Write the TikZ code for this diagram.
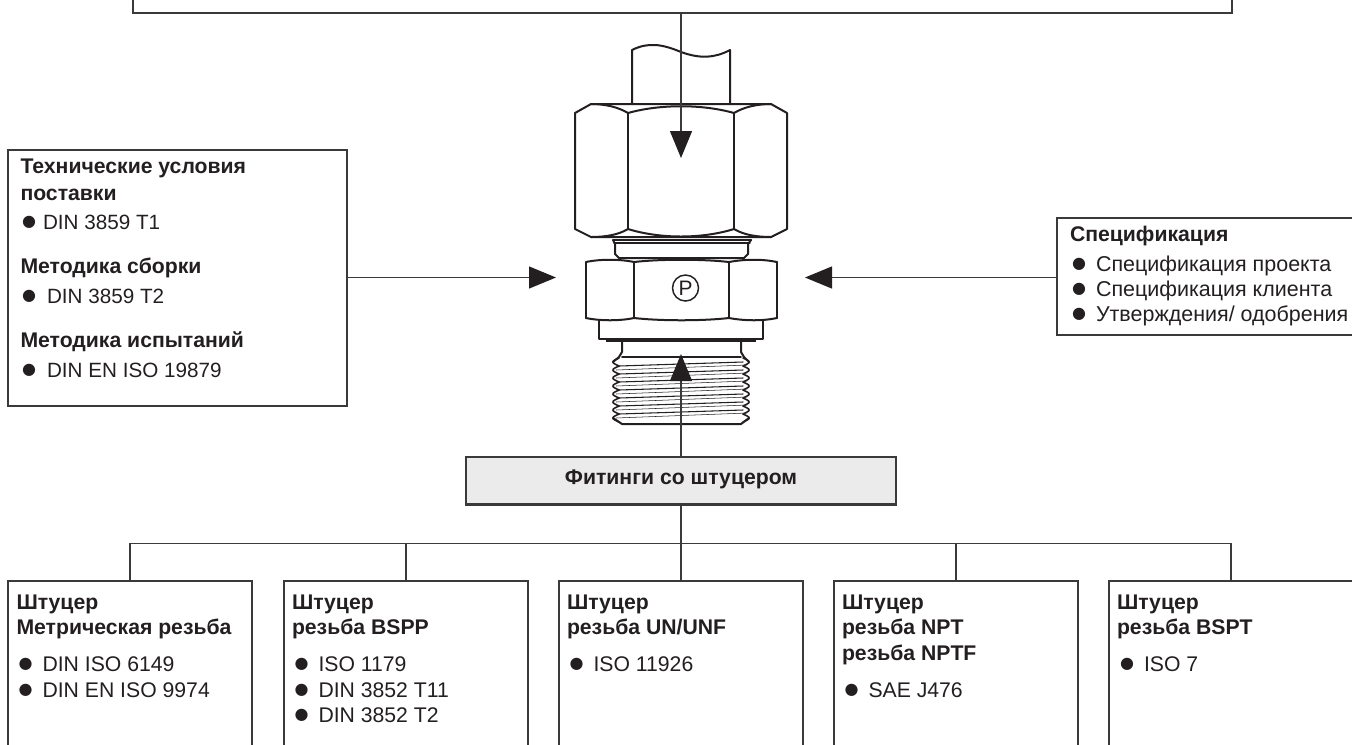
\documentclass[tikz,border=0pt]{standalone}
\usepackage{fontspec}
\setmainfont{Liberation Sans}
\newfontfamily\symfont{DejaVu Sans}
\usetikzlibrary{arrows.meta}
\definecolor{ink}{HTML}{231F20}
\definecolor{linec}{HTML}{3A3A3A}
\definecolor{greyfill}{HTML}{EBEBEB}
\def\px{0.75pt}
\newcommand{\bul}[1]{\llap{\makebox[0pt][c]{\raisebox{1.6pt}{\fontsize{12pt}{12pt}\symfont ●}}\hspace{#1pt}}}
\tikzset{
  frame/.style={draw=linec,line width=0.8pt,rectangle,anchor=north west,inner sep=0pt,outer sep=0pt},
  txt/.style={anchor=base west,inner sep=0pt,outer sep=0pt,text=ink,font=\fontsize{15.5pt}{15.5pt}\selectfont},
  txtb/.style={txt,font=\fontsize{15.9pt}{15.9pt}\selectfont},
  txtr/.style={txt,font=\fontsize{16.1pt}{16.1pt}\selectfont},
  hd/.style={txt,font=\fontsize{15.9pt}{15.9pt}\selectfont\bfseries},
  part/.style={draw=ink,line width=1.5pt,line join=round,line cap=round},
  thread/.style={draw=ink,line width=1.2pt,line join=round,line cap=round},
  thin part/.style={draw=ink,line width=0.8pt,line cap=round},
  conn/.style={draw=linec,line width=0.9pt},
  arrowed/.style={conn,-{Triangle[length=27*\px,width=22*\px,color=ink]}}
}
\begin{document}
\begin{tikzpicture}[x=0.75pt,y=-0.75pt]
\useasboundingbox (0,0) rectangle (1352,744);
\clip (0,0) rectangle (1352,744);
% fitting: pipe
\draw[part] (632,104) -- (632,50) .. controls (648,42) and (662,44) .. (681,52) .. controls (700,59) and (715,58) .. (730,50) -- (730,104);
% upper hexagon
\draw[part] (575,113) -- (591,104) -- (771,104) -- (787,113) -- (787,229) -- (771,237) -- (591,237) -- (575,229) -- cycle;
\draw[part] (628,113) -- (628,229) (734,113) -- (734,229);
\draw[part] (591,104) .. controls (605,104) and (618,107) .. (628,113)
  .. controls (660,104) and (702,104) .. (734,113)
  .. controls (744,107) and (757,104) .. (771,104);
\draw[part] (591,237) .. controls (605,237) and (618,235) .. (628,229)
  .. controls (660,239) and (702,239) .. (734,229)
  .. controls (744,235) and (757,237) .. (771,237);
% neck
\draw[part] (613,240) -- (751,240);
\draw[thin part] (614,243) -- (750,243);
\draw[part] (613,240) -- (615,244) -- (615,254) -- (619,258) -- (744,258) -- (748,254) -- (748,244) -- (751,240);
% lower hexagon
\draw[part] (586,262) -- (586,318) (777,262) -- (777,318);
\draw[part] (634,262) -- (634,318) (729,262) -- (729,318);
\draw[part] (586,262) .. controls (600,259) and (620,259) .. (634,262)
  .. controls (660,259) and (703,259) .. (729,262)
  .. controls (745,259) and (763,259) .. (777,262);
\draw[part] (586,318) .. controls (600,321) and (620,321) .. (634,318)
  .. controls (660,321) and (703,321) .. (729,318)
  .. controls (745,321) and (763,321) .. (777,318);
% washer
\draw[part] (599,320) -- (599,339) -- (763,339) -- (763,320);
\draw[draw=ink,line width=2.4pt] (606,340) -- (756,340);
% stem and thread
\draw[part] (622,341) -- (622,352) -- (619,357) -- (613,362);
\draw[part] (741,341) -- (741,352) -- (744,357) -- (749,362);
\draw[thread] (622,357) -- (741,357);
\foreach \k in {0,...,6}{
  \pgfmathsetmacro{\yy}{366+8*\k}
  \draw[thin part] (619,\yy) -- (743,\yy-4);
  \draw[draw=ink,line width=0.4pt] (616,\yy+4) -- (747,\yy-1);
}
\foreach \k in {0,...,7}{
  \pgfmathsetmacro{\yy}{362+8*\k}
  \draw[thread] (619,\yy-4) .. controls (617,\yy-3) and (612,\yy-1) .. (613,\yy) .. controls (612,\yy+1) and (617,\yy+3) .. (619,\yy+4);
  \draw[thread] (743,\yy-4) .. controls (745,\yy-3) and (750,\yy-1) .. (749,\yy) .. controls (750,\yy+1) and (745,\yy+3) .. (743,\yy+4);
}
\draw[part] (613,418) -- (622,424) -- (741,424) -- (749,418);
% P mark
\node[draw=ink,line width=1.1pt,circle,minimum size=26*\px,inner sep=0pt,text=ink,font=\fontsize{15.7pt}{15.7pt}\selectfont] (pmark) at (685.5,288) {P};
% text boxes
\node[frame,minimum width=1099*\px,minimum height=60*\px] (topbox) at (133,-47) {};
\node[frame,minimum width=339*\px,minimum height=256*\px] (left) at (8,150) {};
\node[frame,minimum width=343*\px,minimum height=117*\px] (right) at (1057,218) {};
\node[frame,line width=1.7pt,fill=greyfill,minimum width=430*\px,minimum height=47.5*\px] (grey) at (466,457) {};
\node[frame,minimum width=244*\px,minimum height=200*\px] (b1) at (8,581) {};
\node[frame,minimum width=244*\px,minimum height=200*\px] (b2) at (284,581) {};
\node[frame,minimum width=244*\px,minimum height=200*\px] (b3) at (559,581) {};
\node[frame,minimum width=244*\px,minimum height=200*\px] (b4) at (834,581) {};
\node[frame,minimum width=244*\px,minimum height=200*\px] (b5) at (1109,581) {};
% connectors
\coordinate (tipT) at (681,158);
\coordinate (tipL) at (556,277.5);
\coordinate (tipR) at (805,277.5);
\coordinate (tipB) at (681,354);
\coordinate (bus) at (681,543.5);
\draw[arrowed] (topbox.south -| tipT) -- (tipT);
\draw[arrowed] (left.east |- tipL) -- (tipL);
\draw[arrowed] (right.west |- tipR) -- (tipR);
\draw[arrowed] (grey.north) -- (tipB);
\draw[conn] (grey.south) -- (b3.north);
\draw[conn] (b1.north) |- (bus) -| (b5.north);
\draw[conn] (b2.north) -- (b2.north |- bus);
\draw[conn] (b4.north) -- (b4.north |- bus);
% left box text
\node[hd] (l1) at (20.5,173) {Технические условия};
\node[hd] (l2) at (20.5,200) {поставки};
\node[txt] (l3) at (43,229) {\bul{10.5}DIN 3859 T1};
\node[hd] (l4) at (20.5,273) {Методика сборки};
\node[txt] (l5) at (47,303) {\bul{13.5}DIN 3859 T2};
\node[hd] (l6) at (20.5,347) {Методика испытаний};
\node[txt] (l7) at (47,377) {\bul{13.5}DIN EN ISO 19879};
% right box text
\node[hd] (r1) at (1070,241) {Спецификация};
\node[txtr] (r2) at (1096,271) {\bul{12.75}Спецификация проекта};
\node[txtr] (r3) at (1096,296) {\bul{12.75}Спецификация клиента};
\node[txtr] (r4) at (1096,321) {\bul{12.75}Утверждения/ одобрения};
% grey box text
\node[hd,anchor=base] (gt) at (681,484) {Фитинги со штуцером};
% bottom boxes text
\node[hd] (a1) at (16.5,609) {Штуцер};
\node[hd] (a2) at (16.5,634) {Метрическая резьба};
\node[txtb] (a3) at (42.5,671) {\bul{12.75}DIN ISO 6149};
\node[txtb] (a4) at (42.5,697) {\bul{12.75}DIN EN ISO 9974};
\node[hd] (c1) at (292,609) {Штуцер};
\node[hd] (c2) at (292,634) {резьба BSPP};
\node[txtb] (c3) at (318.5,671) {\bul{12.75}ISO 1179};
\node[txtb] (c4) at (318.5,697) {\bul{12.75}DIN 3852 T11};
\node[txtb] (c5) at (318.5,722) {\bul{12.75}DIN 3852 T2};
\node[hd] (d1) at (567,609) {Штуцер};
\node[hd] (d2) at (567,634) {резьба UN/UNF};
\node[txtb] (d3) at (593.5,671) {\bul{12.75}ISO 11926};
\node[hd] (e1) at (842,609) {Штуцер};
\node[hd] (e2) at (842,634) {резьба NPT};
\node[hd] (e3) at (842,660) {резьба NPTF};
\node[txtb] (e4) at (868.5,697) {\bul{12.75}SAE J476};
\node[hd] (f1) at (1117,609) {Штуцер};
\node[hd] (f2) at (1117,634) {резьба BSPT};
\node[txtb] (f3) at (1144,671) {\bul{12.75}ISO 7};
\end{tikzpicture}
\end{document}
